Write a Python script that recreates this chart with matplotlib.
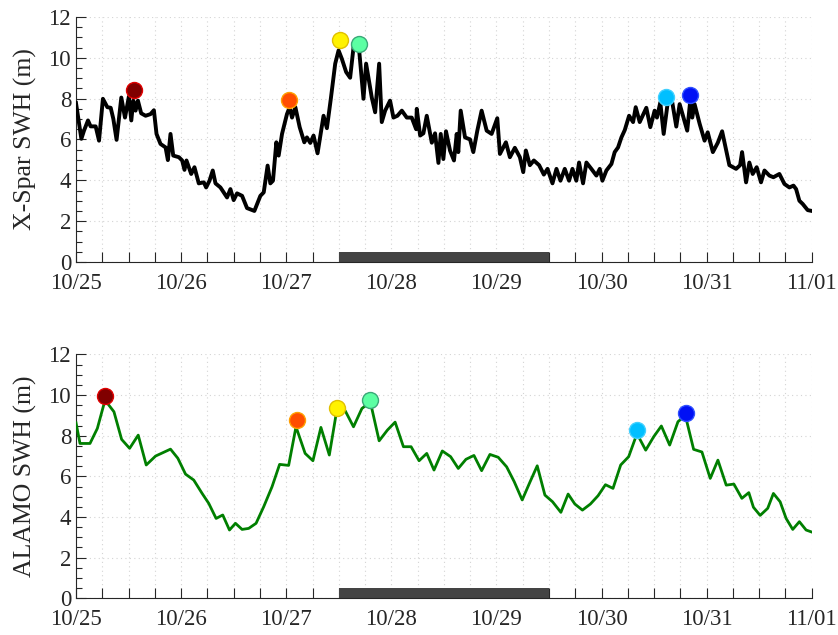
import numpy as np
import matplotlib.pyplot as plt
from matplotlib.ticker import MultipleLocator

plt.rcParams['font.family'] = ['Liberation Serif', 'DejaVu Serif']

# time in days since 10/25 00:00
tick_labels = ['10/25', '10/26', '10/27', '10/28', '10/29', '10/30', '10/31', '11/01']

xspar_day = [0.000, 0.051, 0.076, 0.114, 0.139, 0.187, 0.219, 0.256, 0.298, 0.330,
             0.355, 0.386, 0.431, 0.466, 0.503, 0.526, 0.545, 0.567, 0.589, 0.620,
             0.662, 0.709, 0.741, 0.766, 0.804, 0.852, 0.874, 0.899, 0.925, 0.979,
             1.010, 1.032, 1.051, 1.096, 1.127, 1.168, 1.216, 1.238, 1.270, 1.301,
             1.327, 1.374, 1.437, 1.469, 1.500, 1.532, 1.580, 1.627, 1.697, 1.754,
             1.786, 1.823, 1.849, 1.874, 1.906, 1.928, 1.960, 2.007, 2.033, 2.055,
             2.087, 2.128, 2.172, 2.197, 2.229, 2.260, 2.298, 2.355, 2.387, 2.425,
             2.466, 2.498, 2.529, 2.570, 2.608, 2.640, 2.694, 2.735, 2.760, 2.814,
             2.846, 2.884, 2.909, 2.941, 2.988, 3.020, 3.058, 3.100, 3.147, 3.194,
             3.236, 3.242, 3.274, 3.305, 3.337, 3.385, 3.416, 3.448, 3.470, 3.495,
             3.520, 3.558, 3.596, 3.622, 3.637, 3.660, 3.701, 3.749, 3.780, 3.818,
             3.859, 3.907, 3.954, 4.008, 4.033, 4.090, 4.128, 4.175, 4.223, 4.255,
             4.280, 4.318, 4.356, 4.406, 4.451, 4.486, 4.533, 4.571, 4.609, 4.650,
             4.691, 4.723, 4.760, 4.786, 4.824, 4.856, 4.903, 4.951, 4.983, 5.008,
             5.046, 5.094, 5.125, 5.157, 5.189, 5.221, 5.262, 5.300, 5.325, 5.363,
             5.426, 5.464, 5.505, 5.527, 5.559, 5.591, 5.632, 5.673, 5.711, 5.743,
             5.775, 5.815, 5.844, 5.863, 5.885, 5.933, 5.980, 6.010, 6.059, 6.106,
             6.147, 6.216, 6.280, 6.318, 6.337, 6.375, 6.406, 6.438, 6.476, 6.517,
             6.550, 6.597, 6.635, 6.692, 6.740, 6.787, 6.826, 6.851, 6.882, 6.914,
             6.961, 7.000]
xspar_swh = [7.78, 6.03, 6.43, 6.93, 6.64, 6.64, 5.94, 7.99, 7.58, 7.55,
             7.01, 5.98, 8.05, 7.07, 8.10, 6.93, 7.90, 7.41, 7.90, 7.28,
             7.16, 7.24, 7.43, 6.27, 5.78, 5.61, 4.99, 6.27, 5.21, 5.13,
             4.97, 4.51, 4.97, 4.31, 4.64, 3.85, 3.90, 3.65, 3.98, 4.48,
             3.85, 3.65, 3.16, 3.57, 3.03, 3.36, 3.24, 2.64, 2.50, 3.24,
             3.41, 4.72, 3.85, 3.98, 5.86, 5.21, 6.27, 7.24, 7.58, 7.07,
             7.58, 6.60, 5.86, 6.10, 5.83, 6.19, 5.32, 7.16, 6.55, 8.02,
             9.71, 10.36, 9.95, 9.30, 9.02, 10.50, 10.36, 7.99, 9.71, 8.05,
             7.33, 9.71, 6.85, 7.41, 7.90, 7.07, 7.16, 7.41, 7.07, 7.07,
             6.50, 7.50, 6.19, 6.30, 7.16, 5.84, 6.30, 4.85, 6.27, 5.04,
             6.40, 5.46, 4.97, 6.27, 5.38, 7.41, 6.10, 6.00, 5.38, 6.43,
             7.41, 6.43, 6.27, 7.04, 5.29, 5.86, 5.13, 5.59, 5.13, 4.40,
             5.46, 4.74, 4.97, 4.74, 4.28, 4.56, 3.85, 4.56, 3.98, 4.56,
             3.98, 4.56, 3.98, 4.87, 3.85, 4.87, 4.56, 4.23, 4.56, 3.98,
             4.48, 4.80, 5.38, 5.61, 6.10, 6.46, 7.16, 6.85, 7.58, 6.85,
             7.55, 6.60, 7.41, 7.07, 7.81, 6.27, 7.90, 7.81, 6.63, 7.73,
             7.16, 6.43, 7.90, 7.07, 7.73, 6.77, 5.94, 6.35, 5.38, 5.84,
             6.40, 4.74, 4.56, 4.74, 5.38, 3.90, 4.87, 4.31, 4.64, 3.90,
             4.48, 4.23, 4.15, 4.31, 3.82, 3.65, 3.74, 3.57, 3.00, 2.84,
             2.54, 2.50]

alamo_day = [0.000, 0.038, 0.133, 0.203, 0.276, 0.361, 0.434, 0.510, 0.592, 0.668,
             0.757, 0.899, 0.969, 1.042, 1.120, 1.200, 1.263, 1.333, 1.396, 1.460,
             1.517, 1.580, 1.643, 1.713, 1.786, 1.865, 1.937, 2.023, 2.093, 2.180,
             2.254, 2.330, 2.410, 2.476, 2.561, 2.640, 2.720, 2.800, 2.884, 2.963,
             3.036, 3.115, 3.188, 3.264, 3.337, 3.406, 3.485, 3.564, 3.637, 3.710,
             3.786, 3.859, 3.938, 4.017, 4.097, 4.169, 4.245, 4.318, 4.388, 4.461,
             4.534, 4.613, 4.682, 4.746, 4.818, 4.894, 4.967, 5.037, 5.109, 5.182,
             5.258, 5.337, 5.420, 5.496, 5.569, 5.648, 5.727, 5.797, 5.876, 5.955,
             6.034, 6.107, 6.186, 6.259, 6.335, 6.401, 6.445, 6.509, 6.581, 6.635,
             6.699, 6.756, 6.819, 6.882, 6.946, 7.000]
alamo_swh = [8.64, 7.62, 7.62, 8.36, 9.75, 9.18, 7.82, 7.38, 8.03, 6.56,
             7.00, 7.34, 6.89, 6.11, 5.82, 5.16, 4.67, 3.93, 4.10, 3.36,
             3.69, 3.39, 3.44, 3.69, 4.51, 5.49, 6.59, 6.54, 8.44, 7.13,
             6.77, 8.41, 7.05, 9.10, 9.23, 8.44, 9.34, 9.67, 7.75, 8.28,
             8.67, 7.46, 7.46, 6.77, 7.13, 6.31, 7.25, 6.97, 6.39, 6.84,
             7.03, 6.28, 7.08, 6.94, 6.47, 5.74, 4.84, 5.71, 6.52, 5.08,
             4.75, 4.23, 5.13, 4.64, 4.34, 4.64, 5.05, 5.59, 5.41, 6.56,
             6.97, 8.10, 7.29, 7.95, 8.48, 7.54, 8.69, 9.00, 7.33, 7.20,
             5.90, 6.80, 5.57, 5.62, 4.92, 5.20, 4.48, 4.08, 4.43, 5.16,
             4.75, 3.93, 3.39, 3.77, 3.36, 3.26]

# peak events (jet colours)
event_colors = ['#800000', '#ff4d00', '#fff200', '#5cffa3', '#00bfff', '#0010f5']
event_edges = ['#e00000', '#ffa000', '#e0c000', '#3aa878', '#40d0ff', '#3050ff']
xspar_peak_day = [0.551, 2.030, 2.507, 2.697, 5.610, 5.837]
xspar_peak_swh = [8.43, 7.92, 10.89, 10.67, 8.07, 8.19]
alamo_peak_day = [0.276, 2.100, 2.480, 2.800, 5.340, 5.800]
alamo_peak_swh = [9.95, 8.76, 9.38, 9.77, 8.28, 9.10]

# shaded period
bar_start, bar_end, bar_height = 2.5, 4.5, 0.5

fig = plt.figure(figsize=(8.38, 6.35), dpi=100)
ax1 = fig.add_axes([0.0907, 0.5874, 0.878, 0.386])
ax2 = fig.add_axes([0.0907, 0.0578, 0.878, 0.384])

panels = [(ax1, xspar_day, xspar_swh, 'k', 2.8, xspar_peak_day, xspar_peak_swh, 'X-Spar SWH (m)'),
          (ax2, alamo_day, alamo_swh, '#007f00', 2.0, alamo_peak_day, alamo_peak_swh, 'ALAMO SWH (m)')]

for ax, d, s, c, lw, pd, ps, lab in panels:
    ax.plot(d, s, color=c, lw=lw, zorder=3)
    for i in range(len(pd)):
        ax.plot(pd[i], ps[i], 'o', ms=11.5, mfc=event_colors[i], mec=event_edges[i],
                mew=1.0, zorder=4)
    ax.bar(bar_start, bar_height, width=bar_end - bar_start, align='edge',
           color='#444444', zorder=2)
    ax.set_xlim(0, 7)
    ax.set_ylim(0, 12)
    ax.set_xticks(range(8))
    ax.set_xticklabels(tick_labels)
    ax.xaxis.set_minor_locator(MultipleLocator(0.25))
    ax.set_yticks(range(0, 13, 2))
    ax.yaxis.set_minor_locator(MultipleLocator(0.5))
    ax.grid(which='major', color='#d4d4d4', ls=(0, (1, 3)), lw=0.8)
    ax.grid(which='minor', axis='x', color='#d4d4d4', ls=(0, (1, 3)), lw=0.8)
    ax.tick_params(which='both', direction='in', colors='#262626', labelcolor='#262626',
                   labelsize=16.5, width=0.8)
    ax.tick_params(which='major', length=7)
    ax.tick_params(which='minor', length=4)
    ax.tick_params(axis='x', which='minor', length=7)
    ax.tick_params(axis='x', pad=8)
    ax.spines['top'].set_visible(False)
    ax.spines['right'].set_visible(False)
    ax.spines['left'].set_color('#262626')
    ax.spines['bottom'].set_color('#262626')
    ax.set_axisbelow(True)
    ax.set_ylabel(lab, fontsize=18.5, color='#262626', labelpad=8)

plt.savefig('out.png')
